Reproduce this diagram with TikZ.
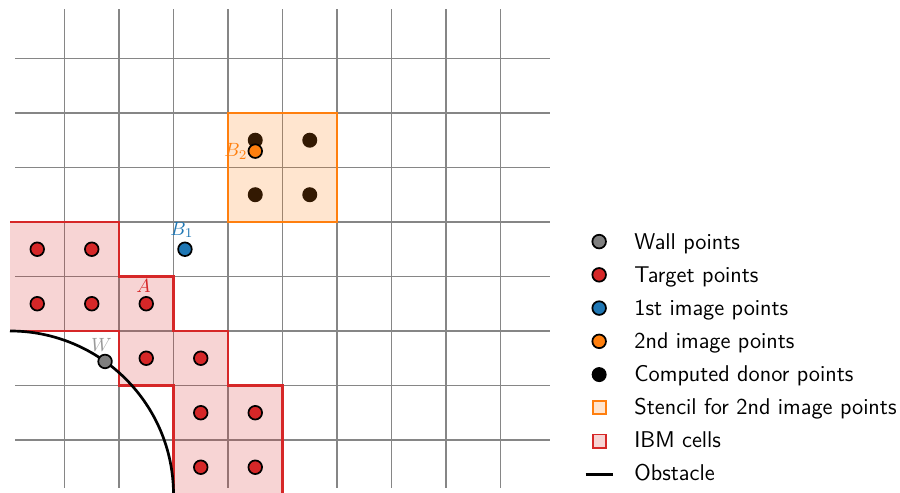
\documentclass[tikz,border=0pt]{standalone}
\usetikzlibrary{calc}
\definecolor{tabred}{HTML}{D62728}
\definecolor{taborange}{HTML}{FF7F0E}
\definecolor{tabblue}{HTML}{1F77B4}
\definecolor{tabgray}{HTML}{7F7F7F}
\definecolor{lblgray}{HTML}{9A9A9A}
\begin{document}
\begin{tikzpicture}[x=1cm,y=1cm,
  gridline/.style={draw=gray!95, line width=0.75pt},
  pt/.style={circle, draw=black, line width=0.9pt, minimum size=0.25cm, inner sep=0pt},
  donor/.style={circle, fill=black, minimum size=0.275cm, inner sep=0pt},
  ibmfill/.style={fill=tabred, fill opacity=0.2},
  ibmline/.style={draw=tabred, line width=1.5pt, line join=miter},
  stencil/.style={draw=taborange, line width=1.5pt, fill=taborange, fill opacity=0.2},
  obst/.style={draw=black, line width=1.4pt},
  lbl/.style={font=\normalsize, inner sep=0pt, anchor=base},
  legtext/.style={font=\sffamily\fontsize{11.9}{14.2}\selectfont, inner sep=0pt, anchor=base west},
  legsq/.style={minimum size=0.24cm, inner sep=0pt, line width=1pt}
]
\useasboundingbox (-0.1835,0.0275) rectangle (16.33,9.073);
\begin{scope}
\clip (-0.1835,0.0275) rectangle (16.33,9.073);
% grid
\draw[gridline] (0.1,0.12) grid (9.9,8.9);
% donor points (under the stencil fill)
\node[donor] (d1) at (4.5,6.5) {};
\node[donor] (d2) at (5.5,6.5) {};
\node[donor] (d3) at (4.5,5.5) {};
\node[donor] (d4) at (5.5,5.5) {};
% stencil
\draw[stencil] (4,5) rectangle (6,7);
% IBM cells
\fill[ibmfill] (0,5) -- (2,5) -- (2,4) -- (3,4) -- (3,3) -- (4,3) -- (4,2) -- (5,2) -- (5,0) -- (3,0) -- (3,2) -- (2,2) -- (2,3) -- (0,3) -- cycle;
\draw[ibmline] (0,5) -- (2,5) -- (2,4) -- (3,4) -- (3,3) -- (4,3) -- (4,2) -- (5,2) -- (5,0);
\draw[ibmline] (3,0) -- (3,2) -- (2,2) -- (2,3) -- (0,3);
% obstacle
\draw[obst] (0,3) arc[start angle=90, end angle=0, radius=3];
% target points
\foreach \p/\q [count=\i] in {0.5/4.5,1.5/4.5,0.5/3.5,1.5/3.5,2.5/3.5,2.5/2.5,3.5/2.5,3.5/1.5,4.5/1.5,3.5/0.5,4.5/0.5}
  \node[pt, fill=tabred] (t\i) at (\p,\q) {};
% wall point, image points
\node[pt, fill=tabgray] (W) at (1.744,2.441) {};
\node[pt, fill=tabblue] (B1) at (3.21,4.5) {};
\node[pt, fill=taborange] (B2) at (4.5,6.3) {};
% labels
\node[lbl, text=tabred] (lA) at (2.45,3.70) {$A$};
\node[lbl, text=lblgray] (lW) at (1.68,2.62) {$W$};
\node[lbl, text=tabblue] (lB1) at (3.156,4.76) {$B_1$};
\node[lbl, text=taborange] (lB2) at (4.147,6.20) {$B_2$};
\end{scope}
% legend
\node[pt, fill=tabgray] (m1) at (10.81,4.64) {};
\node[legtext] (l1) at (11.45,4.49) {Wall points};
\node[pt, fill=tabred] (m2) at (10.81,4.03) {};
\node[legtext] (l2) at (11.45,3.884) {Target points};
\node[pt, fill=tabblue] (m3) at (10.81,3.42) {};
\node[legtext] (l3) at (11.45,3.278) {1st image points};
\node[pt, fill=taborange] (m4) at (10.81,2.81) {};
\node[legtext] (l4) at (11.45,2.673) {2nd image points};
\node[donor] (m5) at (10.81,2.20) {};
\node[legtext] (l5) at (11.45,2.067) {Computed donor points};
\node[legsq, draw=taborange, fill=taborange!20] (m6) at (10.81,1.59) {};
\node[legtext] (l6) at (11.45,1.462) {Stencil for 2nd image points};
\node[legsq, draw=tabred, fill=tabred!20] (m7) at (10.81,0.98) {};
\node[legtext] (l7) at (11.45,0.856) {IBM cells};
\coordinate (o1) at (10.56,0.37);
\coordinate (o2) at (11.06,0.37);
\draw[obst] (o1) -- (o2);
\node[legtext] (l8) at (11.45,0.25) {Obstacle};
\end{tikzpicture}
\end{document}
